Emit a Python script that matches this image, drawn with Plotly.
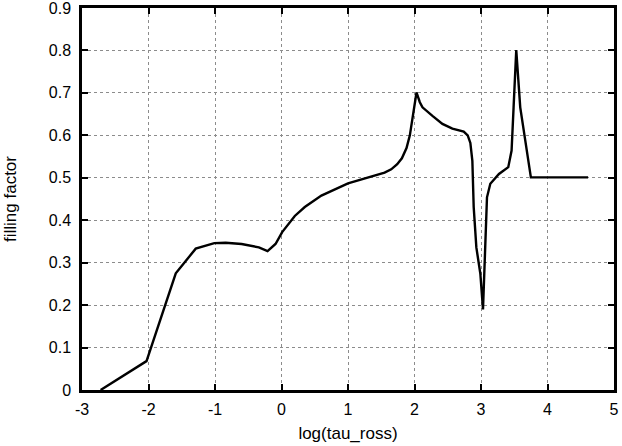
import plotly.graph_objects as go

# log(tau_ross) vs filling factor
log_tau = [-2.72, -2.03, -1.59, -1.29, -1.01, -0.84, -0.6, -0.34, -0.21, -0.09,
           0.01, 0.2, 0.35, 0.6, 1.0, 1.42, 1.55, 1.65, 1.74, 1.81, 1.88, 1.93,
           1.97, 2.0, 2.03, 2.08, 2.12, 2.27, 2.42, 2.57, 2.74, 2.8, 2.84, 2.87,
           2.89, 2.93, 2.99, 3.03, 3.07, 3.09, 3.14, 3.27, 3.41, 3.46, 3.49,
           3.53, 3.59, 3.75, 4.61]
filling = [0.0, 0.068, 0.275, 0.333, 0.346, 0.347, 0.344, 0.336, 0.327, 0.344,
           0.372, 0.41, 0.431, 0.458, 0.487, 0.505, 0.512, 0.52, 0.532, 0.546,
           0.57, 0.6, 0.642, 0.68, 0.701, 0.678, 0.666, 0.646, 0.627, 0.616,
           0.609, 0.6, 0.582, 0.54, 0.431, 0.336, 0.274, 0.19, 0.352, 0.454,
           0.486, 0.509, 0.525, 0.564, 0.666, 0.801, 0.666, 0.501, 0.501]

x_ticks = [-3, -2, -1, 0, 1, 2, 3, 4, 5]
y_ticks = [0, 0.1, 0.2, 0.3, 0.4, 0.5, 0.6, 0.7, 0.8, 0.9]

tick_fnt = dict(family="Liberation Sans, Arial, sans-serif", size=16, color="black")
title_fnt = dict(family="Liberation Sans, Arial, sans-serif", size=17, color="black")

fig = go.Figure()
fig.add_trace(go.Scatter(x=log_tau, y=filling, mode="lines",
                         line=dict(color="black", width=2.4), showlegend=False))

axis_style = dict(showline=True, linewidth=2.5, linecolor="black", mirror="ticks",
                  ticks="inside", ticklen=6, tickwidth=1.5, tickcolor="black",
                  showgrid=True, gridcolor="#8c8c8c", griddash="dot", gridwidth=1,
                  zeroline=False, tickfont=tick_fnt, automargin=False,
                  ticklabeloverflow="allow")

fig.update_xaxes(range=[-3, 5], tickvals=x_ticks, ticktext=[str(v) for v in x_ticks],
                 ticklabelstandoff=3,
                 title=dict(text="log(tau_ross)", font=title_fnt, standoff=11), **axis_style)
fig.update_yaxes(range=[0, 0.9], tickvals=y_ticks, ticktext=[f"{v:g}" for v in y_ticks],
                 ticklabelstandoff=5,
                 title=dict(text="filling factor", font=title_fnt, standoff=28), **axis_style)

fig.update_layout(width=622, height=446, margin=dict(l=82, r=8, t=8, b=56),
                  plot_bgcolor="white", paper_bgcolor="white", font=tick_fnt)

# page body has a default 8px margin, drop it so the figure sits at 0,0
fig.write_html("out.html", config={"displayModeBar": False},
               post_script="document.body.style.margin='0';")
